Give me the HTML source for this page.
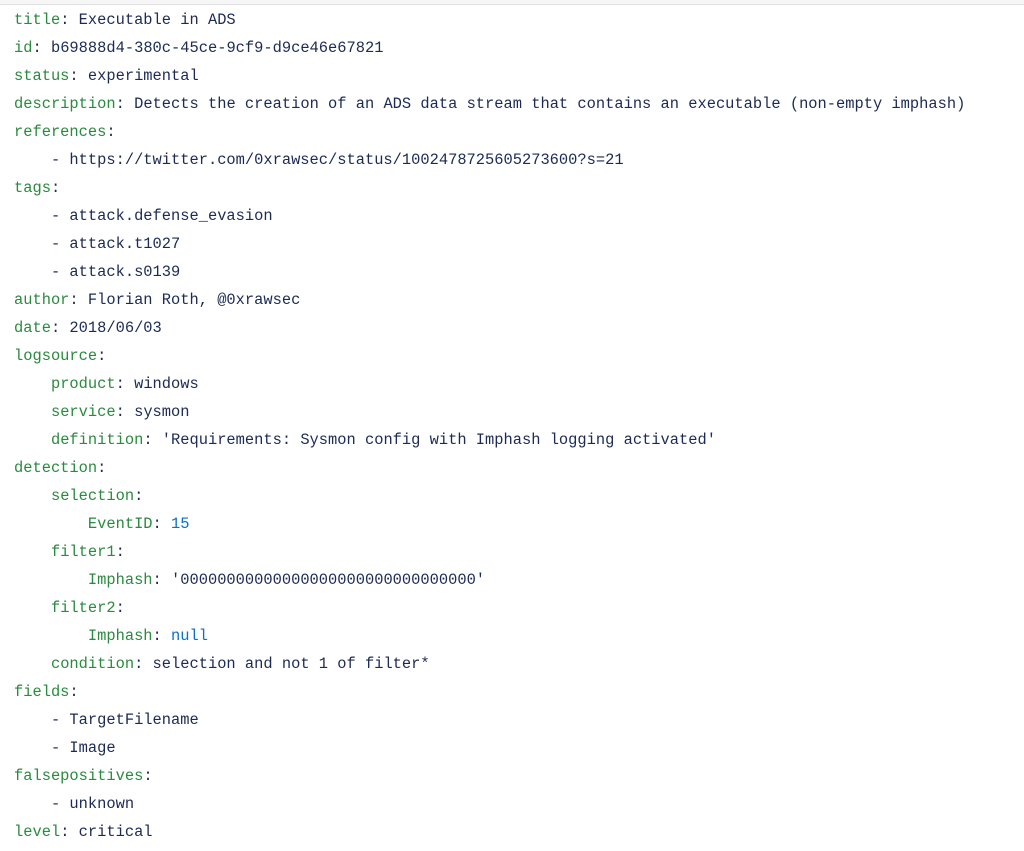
<!DOCTYPE html>
<html><head><style>
html,body{margin:0;padding:0;background:#fff;width:1024px;height:851px;overflow:hidden}
.top{position:absolute;left:0;top:0;width:1024px;height:4px;border-bottom:1px solid #e0e0e0;background:#f6f6f6}
pre{position:absolute;left:14px;top:6px;margin:0;font-family:"Liberation Mono",monospace;font-size:15.4px;line-height:28px;color:#1c2a55}
.k{color:#2a8a3e}.n{color:#0a6fd0}
</style></head><body><div class="top"></div>
<pre><span class="k">title</span>: Executable in ADS
<span class="k">id</span>: b69888d4-380c-45ce-9cf9-d9ce46e67821
<span class="k">status</span>: experimental
<span class="k">description</span>: Detects the creation of an ADS data stream that contains an executable (non-empty imphash)
<span class="k">references</span>:
    - https://twitter.com/0xrawsec/status/1002478725605273600?s=21
<span class="k">tags</span>:
    - attack.defense_evasion
    - attack.t1027
    - attack.s0139
<span class="k">author</span>: Florian Roth, @0xrawsec
<span class="k">date</span>: 2018/06/03
<span class="k">logsource</span>:
    <span class="k">product</span>: windows
    <span class="k">service</span>: sysmon
    <span class="k">definition</span>: 'Requirements: Sysmon config with Imphash logging activated'
<span class="k">detection</span>:
    <span class="k">selection</span>:
        <span class="k">EventID</span>: <span class="n">15</span>
    <span class="k">filter1</span>:
        <span class="k">Imphash</span>: '00000000000000000000000000000000'
    <span class="k">filter2</span>:
        <span class="k">Imphash</span>: <span class="n">null</span>
    <span class="k">condition</span>: selection and not 1 of filter*
<span class="k">fields</span>:
    - TargetFilename
    - Image
<span class="k">falsepositives</span>:
    - unknown
<span class="k">level</span>: critical</pre>
</body></html>
